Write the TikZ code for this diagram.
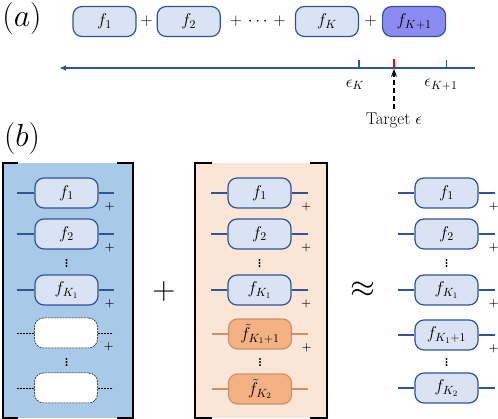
\RequirePackage{fix-cm}
\documentclass[tikz,border=0pt]{standalone}
\usepackage{amsmath,amssymb}
\usetikzlibrary{arrows.meta,positioning}

\definecolor{fline}{HTML}{2F5597}
\definecolor{ffill}{HTML}{DAE3F3}
\definecolor{fnew}{HTML}{8B8BF3}
\definecolor{panelb}{HTML}{A9C9E9}
\definecolor{panelo}{HTML}{FBE5D6}
\definecolor{oline}{HTML}{C9936A}
\definecolor{ofill}{HTML}{F4B183}

\begin{document}
\begin{tikzpicture}[x=1pt, y=-1pt, >=Stealth,
  font=\fontsize{17}{20}\selectfont,
  fbox/.style={draw=fline, fill=ffill, line width=1.2pt, rounded corners=9pt, minimum width=63pt, minimum height=30pt, inner sep=0pt},
  obox/.style={fbox, draw=oline, fill=ofill},
  ebox/.style={draw=black, dash pattern=on 2pt off 1pt, line width=0.5pt, fill=white, rounded corners=9pt, minimum width=63pt, minimum height=30pt},
  lead/.style={draw=fline, line width=1.2pt},
  olead/.style={draw=oline, line width=1.2pt},
  elead/.style={draw=black, dash pattern=on 2pt off 1pt, line width=0.5pt},
  sum/.style={font=\bfseries\fontsize{11}{11}\selectfont, inner sep=0pt},
  big/.style={font=\fontsize{32}{36}\selectfont, inner sep=0pt},
  brk/.style={line width=1.8pt}]
\useasboundingbox (0,0) rectangle (498,419);

% (a) sum of terms and the error axis
\node[big] (la) at (22,19) {$(a)$};
\node[fbox] (f1) at (104.5,21.5) {$f_1$};
\node[fbox, right=20pt of f1] (f2) {$f_2$};
\node[fbox, right=74pt of f2] (fK) {$f_K$};
\node[fbox, fill=fnew, right=23pt of fK] (fK1) {$f_{K+1}$};
\path (f1) -- node (s1) {$+$} (f2);
\path (f2) -- node (s2) {$+\,\cdots\,+$} (fK);
\path (fK) -- node (s3) {$+$} (fK1);

\coordinate (axL) at (59,68);
\coordinate (axR) at (475,68);
\draw[fline, line width=1.3pt, {Latex[length=7pt,width=5.5pt]}-] (axL) -- (axR);
\coordinate (tK) at (fK.east |- axL);
\coordinate (tK1) at (fK1.east |- axL);
\coordinate (tgtpt) at (394,68);
\draw[fline, line width=1.1pt] (tK) -- ++(0,-8);
\draw[fline, line width=1.1pt] (tK1) -- ++(0,-8);
\draw[red, line width=1.1pt] (tgtpt) -- ++(0,-9);
\node (eK) at (355,85) {$\epsilon_K$};
\node (eK1) at (441,85) {$\epsilon_{K+1}$};
\node (tgt) at (394,120) {Target $\epsilon$};
\draw[->, line width=1.1pt, dash pattern=on 5pt off 3pt, shorten >=1pt] (tgt.north) -- (tgtpt);

% (b) left panel
\node[big] (lb) at (22,138.5) {$(b)$};
\fill[panelb] (3,163) rectangle (133,418);
\draw[brk] (18,163) -| (3,418) -- (18,418);
\draw[brk] (117,163) -| (133,418) -- (117,418);
\foreach \y/\lab/\nm in {193/{f_1}/a1, 234/{f_2}/a2, 290/{f_{K_1}}/a3} {
  \node[fbox] (\nm) at (66.5,\y) {$\lab$};
  \draw[lead] (\nm.west) -- ++(-17,0);
  \draw[lead] (\nm.east) -- ++(15,0);
  \node[sum] (p\nm) at ([shift={(11,14)}]\nm.east) {+};
}
\node[ebox] (a4) at (66,333) {};
\draw[elead] (a4.west) -- ++(-17,0);
\draw[elead] (a4.east) -- ++(15,0);
\node[sum] (pa4) at ([shift={(11,14)}]a4.east) {+};
\node[ebox] (a5) at (66,388) {};
\draw[elead] (a5.west) -- ++(-17,0);
\draw[elead] (a5.east) -- ++(15,0);

\node[big] (plus) at (164,292) {$+$};

% (b) middle panel
\fill[panelo] (195,163) rectangle (327,418);
\draw[brk] (212,163) -| (195,418) -- (212,418);
\draw[brk] (310,163) -| (327,418) -- (310,418);
\foreach \y/\lab/\nm in {193/{f_1}/b1, 234/{f_2}/b2, 290/{f_{K_1}}/b3} {
  \node[fbox] (\nm) at (259.5,\y) {$\lab$};
  \draw[lead] (\nm.west) -- ++(-16,0);
  \draw[lead] (\nm.east) -- ++(16,0);
  \node[sum] (p\nm) at ([shift={(14.5,14)}]\nm.east) {+};
}
\node[obox] (b4) at (260,334) {$\tilde f_{K_1+1}$};
\draw[olead] (b4.west) -- ++(-16,0);
\draw[olead] (b4.east) -- ++(16,0);
\node[sum] (pb4) at ([shift={(14.5,14)}]b4.east) {+};
\node[obox] (b5) at (260,389) {$\tilde f_{K_2}$};
\draw[olead] (b5.west) -- ++(-16,0);
\draw[olead] (b5.east) -- ++(16,0);

\node[big] (approx) at (363,290) {$\approx$};

% (b) right panel
\foreach \y/\lab/\nm in {193/{f_1}/c1, 234/{f_2}/c2, 290/{f_{K_1}}/c3, 335/{f_{K_1+1}}/c4, 388/{f_{K_2}}/c5} {
  \node[fbox] (\nm) at (446.5,\y) {$\lab$};
  \draw[lead] (\nm.west) -- ++(-16,0);
  \draw[lead] (\nm.east) -- ++(16,0);
}
\foreach \nm in {c1,c2,c3,c4}
  \node[sum] (p\nm) at ([shift={(15,14)}]\nm.east) {+};

% vertical dots
\foreach \x/\y in {66.5/263, 66.5/362, 259.5/263, 260/362, 446.5/263, 446.5/362}
  \foreach \k in {-3,0,3}
    \fill (\x,\y+\k) circle (1.1pt);
\end{tikzpicture}
\end{document}
